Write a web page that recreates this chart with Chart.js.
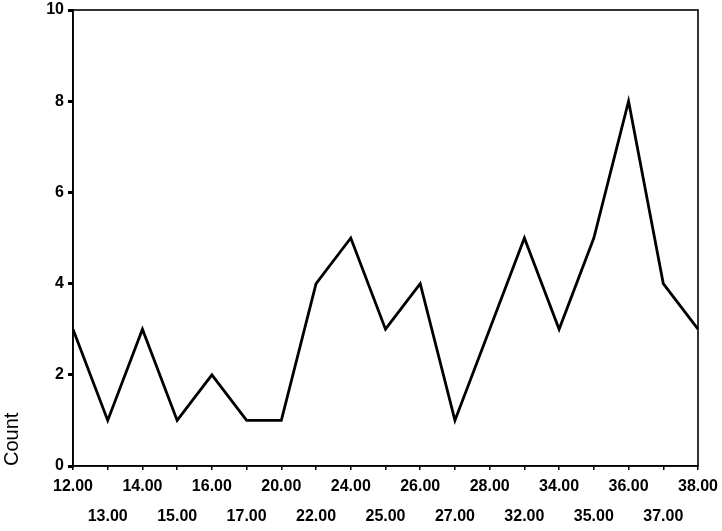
<!DOCTYPE html>
<html>
<head>
<meta charset="utf-8">
<script src="https://cdn.jsdelivr.net/npm/chart.js@4/dist/chart.umd.min.js"></script>
<style>
  html, body { margin: 0; padding: 0; background: #ffffff; }
  #wrap { width: 722px; height: 531px; position: relative; }
</style>
</head>
<body>
<div id="wrap"><canvas id="c" width="722" height="531"></canvas></div>
<script>
const categories = ['12.00','13.00','14.00','15.00','16.00','17.00','20.00','22.00','24.00','25.00','26.00','27.00','28.00','32.00','34.00','35.00','36.00','37.00','38.00'];
const counts = [3, 1, 3, 1, 2, 1, 1, 4, 5, 3, 4, 1, 3, 5, 3, 5, 8, 4, 3];
const yTicks = [0, 2, 4, 6, 8, 10];
const yTitle = 'Count';

const framePlugin = {
  id: 'frame',
  afterDraw(chart) {
    const { ctx, chartArea: a } = chart;
    ctx.save();
    ctx.strokeStyle = '#000';
    ctx.lineWidth = 1.6;
    ctx.strokeRect(a.left, a.top, a.right - a.left, a.bottom - a.top);
    ctx.restore();
  }
};

const fam = '"Liberation Sans", Arial, sans-serif';
const tickFont = { family: fam, size: 16, weight: 'bold', lineHeight: 1.875 };

new Chart(document.getElementById('c'), {
  type: 'line',
  data: {
    labels: categories,
    datasets: [{
      data: counts,
      borderColor: '#000',
      borderWidth: 2.8,
      pointRadius: 0,
      tension: 0,
      fill: false
    }]
  },
  options: {
    responsive: false,
    animation: false,
    devicePixelRatio: 1,
    layout: { padding: { top: 10, right: 24, left: 0, bottom: 0 } },
    plugins: { legend: { display: false }, tooltip: { enabled: false } },
    scales: {
      x: {
        type: 'category',
        offset: false,
        grid: { display: true, drawOnChartArea: false, drawTicks: true, tickLength: 4, color: '#000', lineWidth: 1.5 },
        border: { display: true, color: '#000', width: 1.6 },
        ticks: {
          autoSkip: false,
          maxRotation: 0,
          minRotation: 0,
          padding: 2,
          color: '#000',
          font: tickFont,
          callback: function(value, index) {
            const lab = categories[index];
            return index % 2 === 0 ? lab : ['', lab];
          }
        },
        afterFit(scale) { scale.height = 65; }
      },
      y: {
        min: 0,
        max: 10,
        afterBuildTicks(scale) { scale.ticks = yTicks.map(v => ({ value: v })); },
        grid: { display: true, drawOnChartArea: false, drawTicks: true, tickLength: 5, color: '#000', lineWidth: 3 },
        border: { display: true, color: '#000', width: 1.6 },
        ticks: {
          padding: 4,
          color: '#000',
          font: { family: fam, size: 16, weight: 'bold' }
        },
        title: {
          display: true,
          text: yTitle,
          align: 'start',
          color: '#000',
          font: { family: fam, size: 20 },
          padding: { top: 0, bottom: 0 }
        },
        afterFit(scale) { scale.width = 73; scale.paddingTop = 0; scale.paddingBottom = 0; }
      }
    }
  },
  plugins: [framePlugin]
});
</script>
</body>
</html>
